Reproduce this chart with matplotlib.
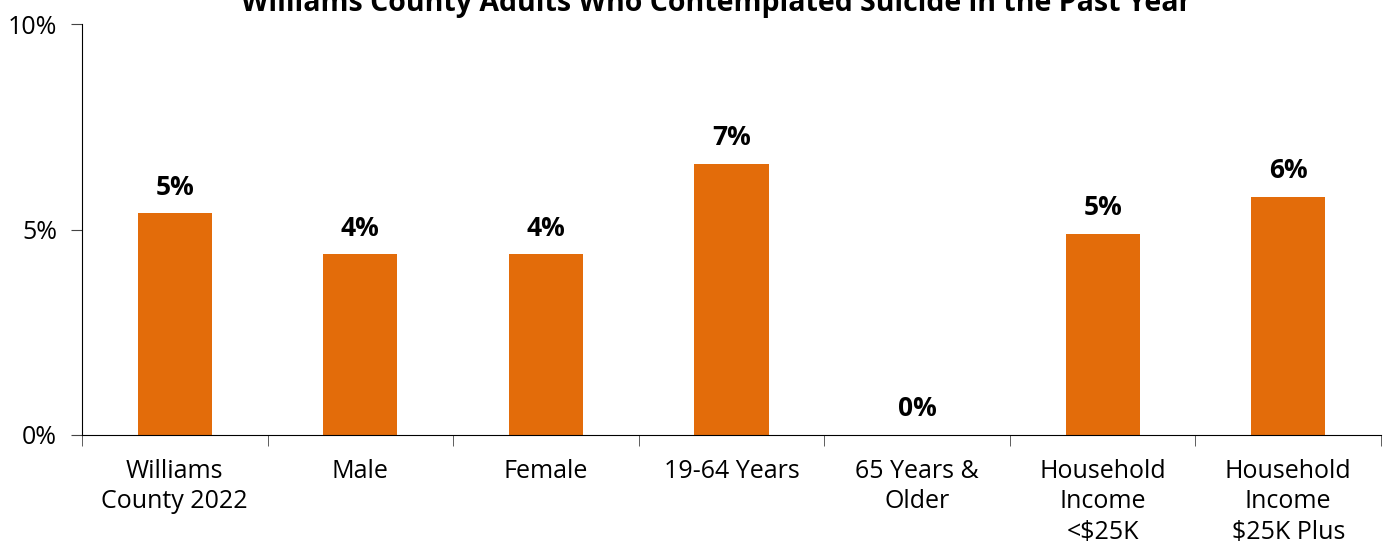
import matplotlib.pyplot as plt
import numpy as np

categories = ['Williams\nCounty 2022', 'Male', 'Female', '19-64 Years',
              '65 Years &\nOlder', 'Household\nIncome\n<$25K', 'Household\nIncome\n$25K Plus']
values = [5.4, 4.4, 4.4, 6.6, 0.0, 4.9, 5.8]
labels = ['5%', '4%', '4%', '7%', '0%', '5%', '6%']
yticks = [0, 5, 10]
ytick_labels = ['0%', '5%', '10%']

plt.rcParams['font.family'] = ['Open Sans', 'DejaVu Sans']

fig = plt.figure(figsize=(13.87, 5.44), dpi=100)
ax = fig.add_axes([82/1387, 109/544, (1381-82)/1387, (435-24)/544])

x = np.arange(len(categories))
ax.bar(x, values, width=0.4, color='#E36C0A')
for xi, v, lab in zip(x, values, labels):
    ax.annotate(lab, (xi, v), xytext=(0, 9), textcoords='offset points',
                ha='center', va='bottom', fontsize=19, fontweight='bold')

ax.set_xlim(-0.5, len(categories) - 0.5)
ax.set_ylim(0, 10)
ax.set_yticks(yticks)
ax.set_yticklabels(ytick_labels, fontsize=18)
ax.set_xticks(x)
ax.set_xticklabels(categories, fontsize=18, linespacing=1.3)
ax.set_xticks(np.arange(len(categories) + 1) - 0.5, minor=True)
ax.tick_params(axis='x', which='major', length=0, pad=17)
ax.tick_params(axis='x', which='minor', length=8, color='#444444')
ax.tick_params(axis='y', length=8, color='#444444', pad=10)

for s in ['top', 'right']:
    ax.spines[s].set_visible(False)

fig.text(716/1387, 1 - 4/544, 'Williams County Adults Who Contemplated Suicide in the Past Year',
         ha='center', va='center', fontsize=20.5, fontweight='bold')

fig.savefig('out.png', dpi=100)
